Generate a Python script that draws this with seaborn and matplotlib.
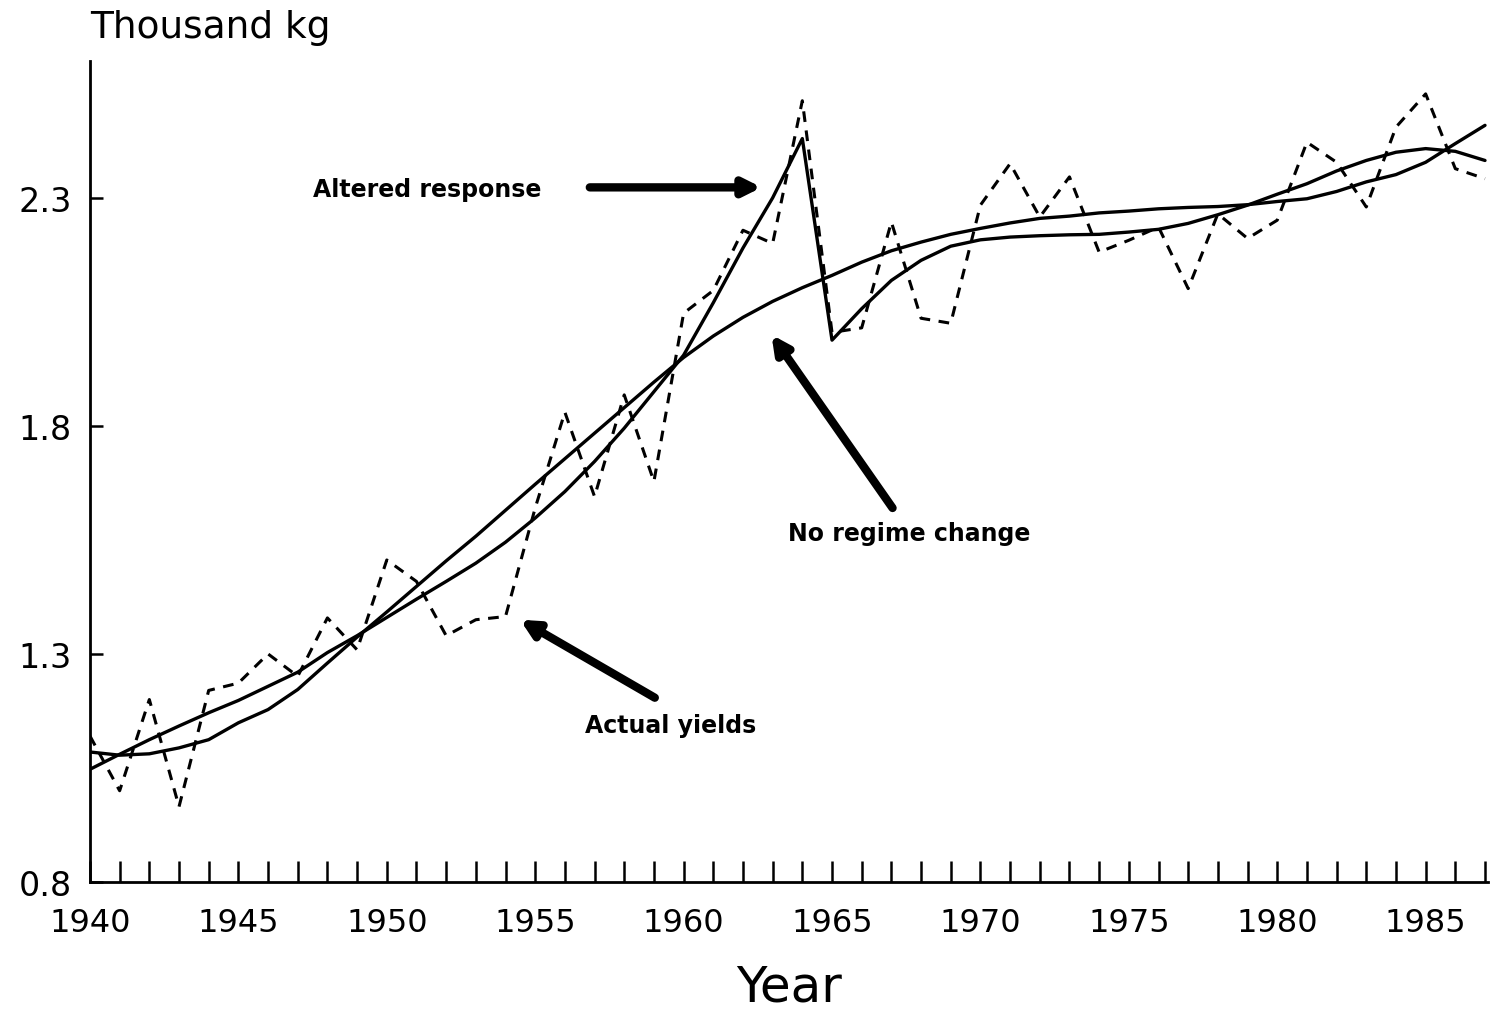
import numpy as np
import pandas as pd
import seaborn as sns
import matplotlib.pyplot as plt

# Yields, thousand kg, 1940-1987
years = list(range(1940, 1988))

actual_yields = [
    1.12, 1.00, 1.20, 0.965, 1.22, 1.236, 1.30, 1.251, 1.379, 1.309,
    1.506, 1.459, 1.34, 1.375, 1.382, 1.62, 1.83, 1.645, 1.868, 1.678,
    2.047, 2.097, 2.229, 2.20, 2.513, 2.005, 2.015, 2.247, 2.036, 2.025,
    2.284, 2.375, 2.258, 2.346, 2.181, 2.207, 2.236, 2.101, 2.265, 2.211,
    2.251, 2.422, 2.378, 2.28, 2.455, 2.528, 2.364, 2.342,
]

no_regime_change = [
    1.085, 1.078, 1.081, 1.094, 1.112, 1.149, 1.178, 1.222, 1.280, 1.337,
    1.392, 1.448, 1.504, 1.558, 1.615, 1.672, 1.728, 1.784, 1.840, 1.896,
    1.950, 1.997, 2.038, 2.073, 2.103, 2.130, 2.159, 2.184, 2.203, 2.220,
    2.233, 2.245, 2.255, 2.260, 2.267, 2.271, 2.276, 2.279, 2.281, 2.285,
    2.292, 2.298, 2.314, 2.335, 2.351, 2.378, 2.419, 2.459,
]

altered_response = [
    1.047, 1.080, 1.112, 1.142, 1.171, 1.198, 1.229, 1.260, 1.303, 1.340,
    1.380, 1.420, 1.459, 1.499, 1.545, 1.598, 1.656, 1.722, 1.795, 1.875,
    1.955, 2.07, 2.19, 2.30, 2.43, 1.988, 2.057, 2.119, 2.163, 2.194,
    2.208, 2.214, 2.217, 2.219, 2.220, 2.225, 2.231, 2.244, 2.263, 2.284,
    2.308, 2.331, 2.359, 2.382, 2.400, 2.408, 2.402, 2.382,
]

y_ticks = [0.8, 1.3, 1.8, 2.3]
x_ticks_major = [1940, 1945, 1950, 1955, 1960, 1965, 1970, 1975, 1980, 1985]

df = pd.DataFrame({
    "Year": years,
    "actual": actual_yields,
    "no_regime": no_regime_change,
    "altered": altered_response,
})

sns.set_style("ticks")
plt.rcParams["font.family"] = ["DejaVu Sans"]
plt.rcParams["text.color"] = "black"
plt.rcParams["xtick.color"] = "black"
plt.rcParams["ytick.color"] = "black"
plt.rcParams["axes.edgecolor"] = "black"

fig = plt.figure(figsize=(14.92, 10.12), dpi=100)
ax = fig.add_axes([0.0603, 0.1275, 0.937, 0.8112])

sns.lineplot(data=df, x="Year", y="no_regime", ax=ax, color="black", lw=2.4)
sns.lineplot(data=df, x="Year", y="altered", ax=ax, color="black", lw=2.4)
sns.lineplot(data=df, x="Year", y="actual", ax=ax, color="black", lw=2.2,
             dashes=False, linestyle=(0, (3.5, 2.8)))

ax.set_xlim(1940, 1987.1)
ax.set_ylim(0.8, 2.6)
ax.set_xticks(x_ticks_major)
ax.set_xticks(years, minor=True)
ax.set_yticks(y_ticks)
ax.set_yticklabels([f"{v:.1f}" for v in y_ticks])
ax.tick_params(axis="x", which="both", direction="in", length=15, width=1.8,
               labelsize=23, pad=18, labelcolor="black")
ax.tick_params(axis="y", direction="in", length=9, width=1.8,
               labelsize=24, pad=13, labelcolor="black")
ax.set_xlabel("")
ax.set_ylabel("")
sns.despine(ax=ax)
for side in ["left", "bottom"]:
    ax.spines[side].set_linewidth(2)

arrow_kw = dict(arrowstyle="-|>,head_length=1.0,head_width=0.5",
                color="black", lw=6, shrinkA=0, shrinkB=0)
text_kw = dict(fontsize=17, fontweight="bold", color="black")

ax.annotate("", xy=(1962.63, 2.323), xytext=(1956.84, 2.323), arrowprops=arrow_kw)
ax.text(1947.5, 2.32, "Altered response", ha="left", va="center", **text_kw)

ax.annotate("", xy=(1962.96, 2.0), xytext=(1967.04, 1.62), arrowprops=arrow_kw)
ax.text(1967.6, 1.566, "No regime change", ha="center", va="center", **text_kw)

ax.annotate("", xy=(1954.49, 1.375), xytext=(1959.03, 1.204), arrowprops=arrow_kw)
ax.text(1959.55, 1.145, "Actual yields", ha="center", va="center", **text_kw)

fig.text(0.0603, 0.972, "Thousand kg", ha="left", va="center", fontsize=27)
fig.text(0.529, 0.024, "Year", ha="center", va="center", fontsize=36)

fig.savefig("out.png", dpi=100)
